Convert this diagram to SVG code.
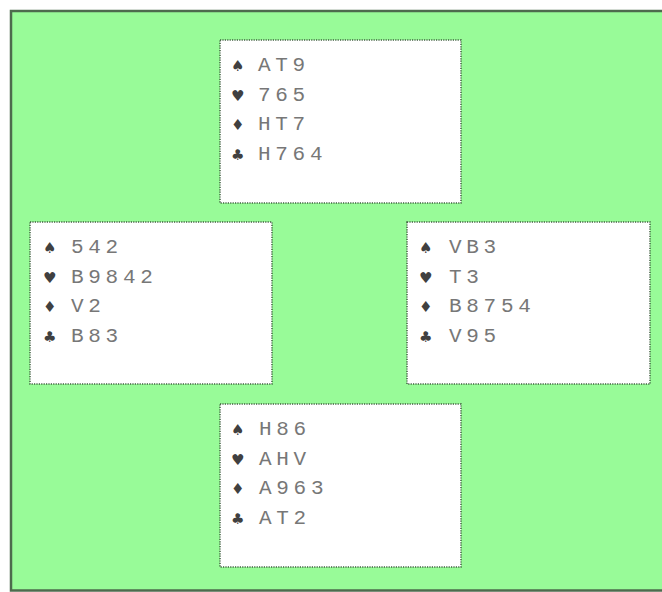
<svg xmlns="http://www.w3.org/2000/svg" width="662" height="592" viewBox="0 0 662 592">
<style>
.bg{fill:#98fb98;stroke:#4d6b4d;stroke-width:2.5}
.box{fill:#ffffff;stroke:#3f5f3f;stroke-width:1.5;stroke-dasharray:1.2 1.2}
.s{font-family:"DejaVu Sans",sans-serif;font-size:15px;fill:#404040}
.t{font-family:"Liberation Mono","Courier New",monospace;font-size:21px;fill:#777777;letter-spacing:4.7px}
</style>
<rect x="0" y="0" width="662" height="592" fill="#ffffff"/>
<rect class="bg" x="11" y="11" width="670" height="579.5"/>
<g id="connectors"></g>
<g id="north" transform="translate(220,40)">
<rect class="box" x="0" y="0" width="241" height="163"/>
<text class="s" x="11" y="31">♠</text><text class="t" x="38" y="31">AT9</text>
<text class="s" x="11" y="60.5">♥</text><text class="t" x="38" y="60.5">765</text>
<text class="s" x="11" y="90">♦</text><text class="t" x="38" y="90">HT7</text>
<text class="s" x="11" y="119.5">♣</text><text class="t" x="38" y="119.5">H764</text>
</g>
<g id="west" transform="translate(30,222)">
<rect class="box" x="0" y="0" width="242" height="162"/>
<text class="s" x="13" y="31">♠</text><text class="t" x="41" y="31">542</text>
<text class="s" x="13" y="60.5">♥</text><text class="t" x="41" y="60.5">B9842</text>
<text class="s" x="13" y="90">♦</text><text class="t" x="41" y="90">V2</text>
<text class="s" x="13" y="119.5">♣</text><text class="t" x="41" y="119.5">B83</text>
</g>
<g id="east" transform="translate(407,222)">
<rect class="box" x="0" y="0" width="243" height="162"/>
<text class="s" x="12" y="31">♠</text><text class="t" x="42" y="31">VB3</text>
<text class="s" x="12" y="60.5">♥</text><text class="t" x="42" y="60.5">T3</text>
<text class="s" x="12" y="90">♦</text><text class="t" x="42" y="90">B8754</text>
<text class="s" x="12" y="119.5">♣</text><text class="t" x="42" y="119.5">V95</text>
</g>
<g id="south" transform="translate(220,404)">
<rect class="box" x="0" y="0" width="241" height="163"/>
<text class="s" x="11" y="31">♠</text><text class="t" x="39" y="31">H86</text>
<text class="s" x="11" y="60.5">♥</text><text class="t" x="39" y="60.5">AHV</text>
<text class="s" x="11" y="90">♦</text><text class="t" x="39" y="90">A963</text>
<text class="s" x="11" y="119.5">♣</text><text class="t" x="39" y="119.5">AT2</text>
</g>
</svg>
